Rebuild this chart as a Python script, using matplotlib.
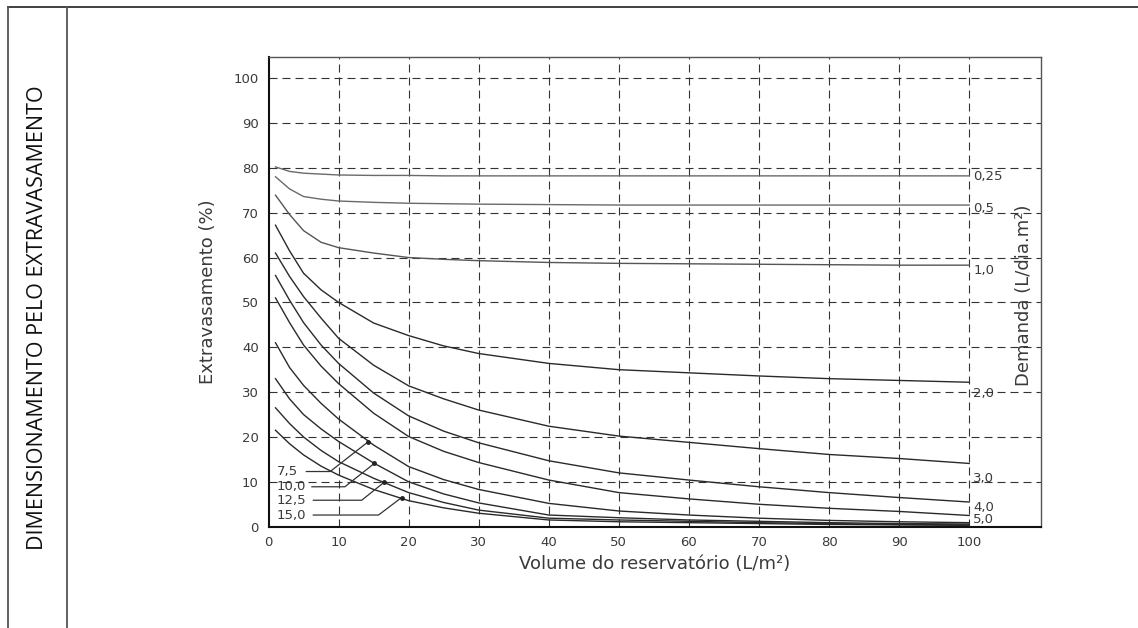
import matplotlib
matplotlib.use("Agg")
import matplotlib.pyplot as plt
from matplotlib.lines import Line2D

# volume do reservatorio (L/m2)
vol = [1, 3, 5, 7.5, 10, 15, 20, 25, 30, 40, 50, 60, 70, 80, 90, 100]

# extravasamento (%) for each demanda (L/dia.m2)
d_025 = [80.2, 79.2, 78.8, 78.6, 78.4, 78.3, 78.3, 78.2, 78.2, 78.2, 78.2, 78.2, 78.2, 78.2, 78.2, 78.2]
d_05 = [78.0, 75.3, 73.6, 73.0, 72.6, 72.3, 72.1, 72.0, 71.9, 71.8, 71.7, 71.7, 71.7, 71.7, 71.7, 71.7]
d_10 = [73.9, 69.6, 66.0, 63.4, 62.2, 61.0, 60.0, 59.6, 59.3, 58.9, 58.7, 58.6, 58.5, 58.4, 58.3, 58.3]
d_20 = [67.2, 61.5, 56.5, 52.8, 50.0, 45.4, 42.6, 40.3, 38.6, 36.4, 35.0, 34.3, 33.6, 33.0, 32.6, 32.2]
d_30 = [61.0, 55.8, 51.3, 46.5, 42.0, 36.0, 31.4, 28.5, 26.0, 22.4, 20.2, 18.8, 17.4, 16.1, 15.2, 14.1]
d_40 = [56.0, 50.5, 45.5, 40.5, 36.4, 29.8, 24.7, 21.3, 18.7, 14.7, 12.0, 10.4, 8.9, 7.6, 6.5, 5.5]
d_50 = [51.0, 45.5, 40.5, 35.8, 31.9, 25.3, 20.1, 16.8, 14.3, 10.4, 7.6, 6.2, 5.0, 4.1, 3.4, 2.5]
d_75 = [41.0, 35.5, 31.5, 27.5, 24.0, 18.2, 13.4, 10.5, 8.3, 5.2, 3.5, 2.6, 1.9, 1.4, 1.1, 0.9]
d_100 = [33.0, 28.5, 25.0, 21.8, 19.0, 14.2, 10.0, 7.3, 5.3, 2.6, 2.0, 1.5, 1.2, 0.9, 0.7, 0.6]
d_125 = [26.5, 23.0, 20.0, 17.0, 14.5, 10.8, 7.6, 5.4, 3.7, 1.9, 1.5, 1.2, 0.9, 0.7, 0.5, 0.4]
d_150 = [21.5, 18.5, 16.0, 13.5, 11.5, 8.3, 5.8, 4.2, 3.0, 1.5, 1.1, 0.9, 0.7, 0.5, 0.4, 0.3]

# labels on the right side (end of the curves)
right_labels = ["0,25", "0,5", "1,0", "2,0", "3,0", "4,0", "5,0"]
right_label_y = [78.0, 70.9, 57.2, 29.6, 10.8, 4.2, 1.5]

# labels with leader lines at the lower left
small_labels = ["7,5", "10,0", "12,5", "15,0"]
small_label_y = [12.3, 8.9, 5.9, 2.6]
leader_start_x = [5.4, 6.2, 6.4, 6.4]
leader_corner_x = [8.8, 10.9, 13.3, 15.7]
leader_tip_x = [14.2, 15.1, 16.5, 19.0]
leader_tip_y = [18.9, 14.1, 9.9, 6.5]

xticks = [0, 10, 20, 30, 40, 50, 60, 70, 80, 90, 100]
yticks = [0, 10, 20, 30, 40, 50, 60, 70, 80, 90, 100]

txt = "#3a3a3a"

fig = plt.figure(figsize=(11.38, 6.28), dpi=100)
ax = fig.add_axes([268.5 / 1138, 1 - 526.7 / 628, (1040.7 - 268.5) / 1138, (526.7 - 57) / 628])

curves = [d_025, d_05, d_10, d_20, d_30, d_40, d_50, d_75, d_100, d_125, d_150]
colors = ["#6a6a6a", "#6a6a6a", "#555555"] + ["#2a2a2a"] * 8
for vals, c in zip(curves, colors):
    ax.plot(vol, vals, color=c, lw=1.0, zorder=3)

ax.set_xlim(0, 110.2)
ax.set_ylim(0, 104.7)
ax.set_xticks(xticks)
ax.set_yticks(yticks)
ax.tick_params(length=0, labelsize=9.5, labelcolor=txt, pad=7)
ax.tick_params(axis="x", pad=7)

for v in xticks[1:]:
    ax.axvline(v, color="#333333", lw=0.8, dashes=(7.2, 4.5), zorder=1)
for v in yticks[1:]:
    ax.axhline(v, color="#333333", lw=0.8, dashes=(7.2, 4.5), zorder=1)

for s in ["left", "bottom"]:
    ax.spines[s].set_color("#111111")
    ax.spines[s].set_linewidth(1.5)
for s in ["top", "right"]:
    ax.spines[s].set_color("#555555")
    ax.spines[s].set_linewidth(1.0)

ax.set_xlabel("Volume do reservatório (L/m²)", fontsize=13, color=txt, labelpad=4)
ax.set_ylabel("Extravasamento (%)", fontsize=13, color=txt, labelpad=12)

for lab, y in zip(right_labels, right_label_y):
    ax.text(100.6, y, lab, fontsize=9.5, color=txt, ha="left", va="center")

ax.text(107.8, 51.6, "Demanda (L/dia.m²)", fontsize=13, color=txt, rotation=90,
        ha="center", va="center")

for i, lab in enumerate(small_labels):
    y = small_label_y[i]
    ax.text(1.2, y, lab, fontsize=9.5, color=txt, ha="left", va="center")
    ax.plot([leader_start_x[i], leader_corner_x[i], leader_tip_x[i]],
            [y, y, leader_tip_y[i]], color="#333333", lw=0.9, zorder=4)
    ax.plot(leader_tip_x[i], leader_tip_y[i], "o", color="#222222", ms=2.5, zorder=5)

# outer frame of the page table
fig.add_artist(Line2D([8 / 1138, 1], [1 - 7 / 628, 1 - 7 / 628], color="#333333", lw=1.3))
fig.add_artist(Line2D([8 / 1138, 8 / 1138], [0, 1 - 7 / 628], color="#555555", lw=1.3))
fig.add_artist(Line2D([66.5 / 1138, 66.5 / 1138], [0, 1 - 7 / 628], color="#555555", lw=1.3))
fig.text(37.5 / 1138, 1 - 318 / 628, "DIMENSIONAMENTO PELO EXTRAVASAMENTO", rotation=90,
         fontsize=15.5, family="Open Sans", color="#111111", ha="center", va="center")

fig.savefig("out.png", dpi=100)
